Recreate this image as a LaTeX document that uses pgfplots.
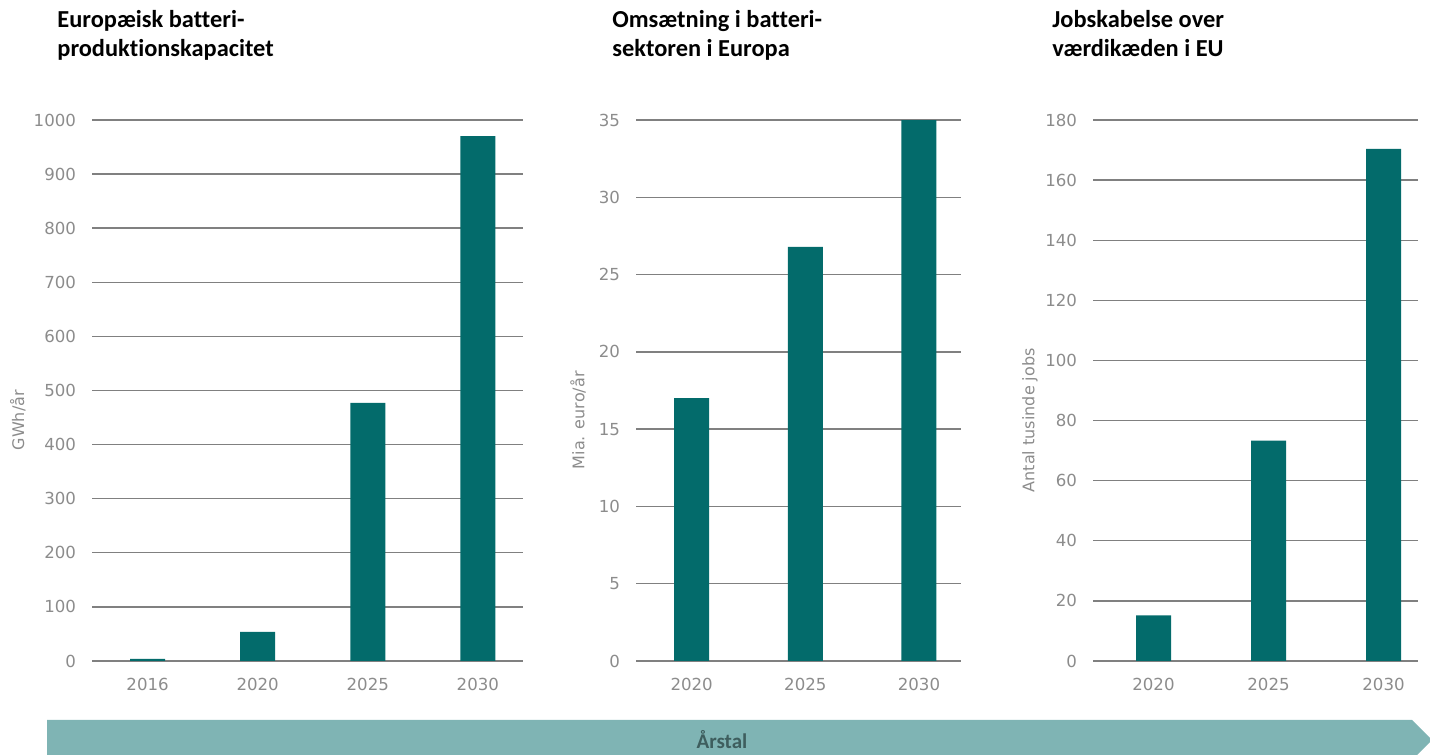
\documentclass[border=0pt]{standalone}
\usepackage{pgfplots}
\pgfplotsset{compat=1.18}
\usepackage{fontspec}
\setmainfont{DejaVu Sans}
\newfontfamily\titlefont{Carlito}[Ligatures=NoCommon]
\definecolor{barteal}{RGB}{3,107,107}
\definecolor{banner}{RGB}{127,180,180}
\definecolor{bannertext}{RGB}{62,94,94}
\definecolor{tickgray}{RGB}{140,140,140}
\definecolor{gridgray}{RGB}{128,128,128}
\pgfplotsset{
  mybars/.style={
    scale only axis,
    anchor=south west,
    height=270.5bp,
    ymin=0,
    ybar,
    bar width=17.5bp,
    axis line style={draw=none},
    major tick length=0pt,
    ymajorgrids,
    grid style={gridgray,line width=0.7bp},
    xtick=data,
    tick label style={font=\fontsize{8.3bp}{10bp}\selectfont, text=tickgray},
    yticklabel style={xshift=-4.5bp, /pgf/number format/1000 sep={}},
    xticklabel style={yshift=-5bp},
    /pgf/number format/assume math mode=true,
    ylabel style={font=\fontsize{8bp}{9bp}\selectfont, text=tickgray},
  },
}
\begin{document}
\begin{tikzpicture}
\useasboundingbox (0,0) rectangle (715bp,377.5bp);
% bottom banner
\fill[banner] (23.5bp,17.5bp) -- (706bp,17.5bp) -- (716bp,7.5bp) -- (706bp,-2.5bp) -- (23.5bp,-2.5bp) -- cycle;
\node[anchor=base, font=\titlefont\bfseries\fontsize{10.5bp}{12bp}\selectfont, text=bannertext] at (361bp,3.5bp) {Årstal};
% titles
\node[anchor=base west, align=left, inner sep=0pt, font=\titlefont\bfseries\fontsize{12.2bp}{14.5bp}\selectfont] at (28.5bp,349bp) {Europæisk batteri-\\produktionskapacitet};
\node[anchor=base west, align=left, inner sep=0pt, font=\titlefont\bfseries\fontsize{12.2bp}{14.5bp}\selectfont] at (306bp,349bp) {Omsætning i batteri-\\sektoren i Europa};
\node[anchor=base west, align=left, inner sep=0pt, font=\titlefont\bfseries\fontsize{12.2bp}{14.5bp}\selectfont] at (526bp,349bp) {Jobskabelse over\\værdikæden i EU};

\begin{axis}[mybars, at={(46bp,47bp)}, width=215.5bp,
  ymax=1000, ytick={0,100,...,1000},
  xmin=-0.505, xmax=3.41,
  xticklabels={2016,2020,2025,2030},
  ylabel={GWh/år},
  ylabel style={at={(axis description cs:-0.172,0.445)}, anchor=center}]
\addplot[fill=barteal, draw=none] coordinates {(0,4) (1,54) (2,477) (3,970)};
\end{axis}

\begin{axis}[mybars, at={(318bp,47bp)}, width=162.5bp,
  ymax=35, ytick={0,5,...,35},
  xmin=-0.49, xmax=2.37,
  xticklabels={2020,2025,2030},
  ylabel={Mia. euro/år},
  ylabel style={at={(axis description cs:-0.178,0.445)}, anchor=center}]
\addplot[fill=barteal, draw=none] coordinates {(0,17) (1,26.8) (2,35)};
\end{axis}

\begin{axis}[mybars, at={(546.5bp,47bp)}, width=162.5bp,
  ymax=180, ytick={0,20,...,180},
  xmin=-0.526, xmax=2.3,
  xticklabels={2020,2025,2030},
  ylabel={Antal tusinde jobs},
  ylabel style={at={(axis description cs:-0.194,0.445)}, anchor=center}]
\addplot[fill=barteal, draw=none] coordinates {(0,15.2) (1,73.3) (2,170.4)};
\end{axis}
\end{tikzpicture}
\end{document}
